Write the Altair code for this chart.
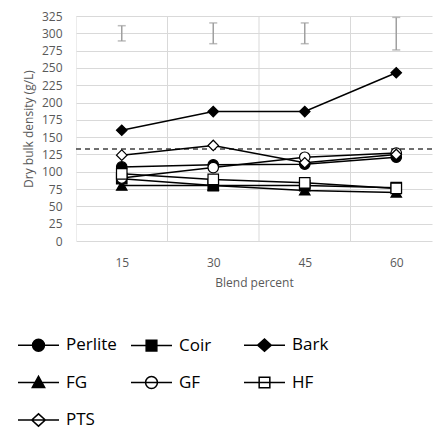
import altair as alt
import pandas as pd

blend = [15, 30, 45, 60]
series = ["Perlite", "Coir", "Bark", "FG", "GF", "HF", "PTS"]
values = {
    "Perlite": [107, 110, 111, 121],
    "Coir": [90, 80, 80, 77],
    "Bark": [160, 187, 187, 243],
    "FG": [80, 80, 73, 70],
    "GF": [91, 106, 121, 127],
    "HF": [97, 89, 84, 76],
    "PTS": [124, 138, 113, 125],
}
markers = ["circle", "square", "diamond", "triangle-up", "circle", "square", "diamond"]
fills = ["black", "black", "black", "black", "white", "white", "white"]
legend_paths = [
    "M-1,0H1M0.29,0A0.29,0.29,0,1,1,-0.29,0A0.29,0.29,0,1,1,0.29,0Z",
    "M-1,0H1M-0.26,-0.26H0.26V0.26H-0.26Z",
    "M-1,0H1M-0.33,0L0,-0.3L0.33,0L0,0.3Z",
    "M-1,0H1M-0.3,0.24L0,-0.3L0.3,0.24Z",
    "M-1,0H1M0.29,0A0.29,0.29,0,1,1,-0.29,0A0.29,0.29,0,1,1,0.29,0Z",
    "M-1,0H1M-0.26,-0.26H0.26V0.26H-0.26Z",
    "M-1,0H1M-0.33,0L0,-0.3L0.33,0L0,0.3Z",
]
err_low = [289, 285, 285, 276]
err_high = [311, 315, 315, 323]
threshold = 133
y_ticks = list(range(0, 326, 25))

rows = []
for i, s in enumerate(series):
    for b, v in zip(blend, values[s]):
        rows.append({"series": s, "blend": b, "value": v, "marker": markers[i],
                     "fillc": fills[i], "order": i})
df = pd.DataFrame(rows)
err_df = pd.DataFrame({"blend": blend, "low": err_low, "high": err_high})
step = blend[1] - blend[0]
bounds = [b - step / 2 for b in blend] + [blend[-1] + step / 2]
grid_df = pd.DataFrame({"b": bounds})

W = 356
full_w = 366
x_hi = bounds[0] + (bounds[-1] - bounds[0]) * W / full_w  # plot is cut at the right like the original

xs = alt.Scale(domain=[bounds[0], x_hi], nice=False, zero=False)
ys = alt.Scale(domain=[0, 325], nice=False)
x_axis = alt.Axis(values=blend, grid=False, ticks=False, domain=False,
                  labelPadding=16, titlePadding=9, labelOverlap=False,
                  titleColor="#595959", labelColor="#595959")
y_axis = alt.Axis(values=y_ticks, ticks=False, domain=False, grid=True,
                  labelPadding=14, titlePadding=6, gridColor="#d9d9d9",
                  labelOverlap=False, titleColor="#595959", labelColor="#595959")


def X(field):
    return alt.X(field, scale=xs, title="Blend percent", axis=x_axis)


def Y(field):
    return alt.Y(field, scale=ys, title="Dry bulk density (g/L)", axis=y_axis)


base = alt.Chart(df)

vgrid = alt.Chart(grid_df).mark_rule(color="#d9d9d9", strokeWidth=1, clip=True).encode(
    x=X("b:Q"))
dash = alt.Chart(pd.DataFrame({"t": [threshold]})).mark_rule(
    color="#404040", strokeWidth=1.5, strokeDash=[5, 4]).encode(y=Y("t:Q"))
err_rule = alt.Chart(err_df).mark_rule(color="#a0a0a0", strokeWidth=1.5).encode(
    x=X("blend:Q"), y=Y("low:Q"), y2="high:Q")
err_lo = alt.Chart(err_df).mark_tick(color="#a0a0a0", thickness=1.5, size=8,
                                     orient="horizontal").encode(
    x=X("blend:Q"), y=Y("low:Q"))
err_hi = alt.Chart(err_df).mark_tick(color="#a0a0a0", thickness=1.5, size=8,
                                     orient="horizontal").encode(
    x=X("blend:Q"), y=Y("high:Q"))

lines = base.mark_line(color="black", strokeWidth=1.5).encode(
    x=X("blend:Q"), y=Y("value:Q"), detail="series:N", order="blend:Q")
points = base.mark_point(filled=True, stroke="black", strokeWidth=1.2, size=110,
                         opacity=1).encode(
    x=X("blend:Q"), y=Y("value:Q"),
    shape=alt.Shape("marker:N", scale=None),
    fill=alt.Fill("fillc:N", scale=None),
    order="order:Q")

leg = base.transform_filter("datum.value < 0").mark_point(
    filled=True, stroke="black", strokeWidth=1.5, opacity=1).encode(
    x=X("blend:Q"), y=Y("value:Q"),
    shape=alt.Shape("series:N", scale=alt.Scale(domain=series, range=legend_paths),
                    legend=alt.Legend(title=None, orient="none", legendX=-59,
                                      legendY=307.5, columns=3, gridAlign="all",
                                      direction="horizontal",
                                      columnPadding=11, rowPadding=6.5,
                                      labelFont="Open Sans", labelFontSize=17,
                                      labelColor="black", symbolSize=1681,
                                      symbolStrokeWidth=1.5,
                                      symbolStrokeColor="black", labelOffset=6,
                                      padding=0, symbolOffset=0, labelLimit=200)),
    fill=alt.Fill("series:N", scale=alt.Scale(domain=series, range=fills),
                  legend=alt.Legend(title=None)))

chart = alt.layer(vgrid, dash, lines, err_rule, err_lo, err_hi, points, leg).properties(
    width=W, height=225,
    padding={"left": 9, "top": 2, "right": 0, "bottom": 0},
).configure_view(stroke=None).configure_axis(
    labelFont="Open Sans", labelFontSize=12,
    titleFont="Open Sans", titleFontSize=12,
    titleFontWeight="normal")

chart.save("out.html", embed_options={"renderer": "svg", "actions": False})
